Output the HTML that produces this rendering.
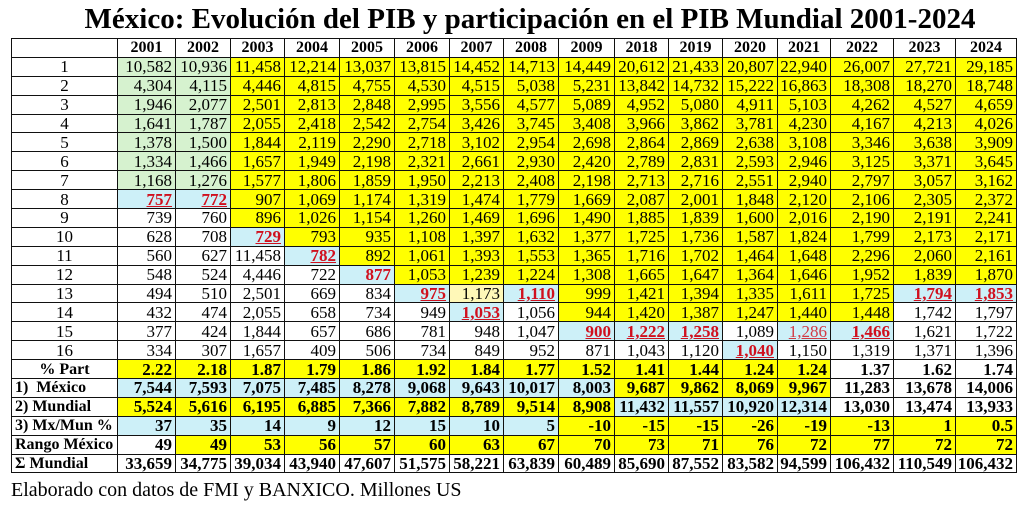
<!DOCTYPE html>
<html><head><meta charset="utf-8"><style>
body{margin:0;width:1024px;height:505px;background:#fff;position:relative;overflow:hidden;font-family:"Liberation Serif",serif;}
#t{position:absolute;left:0;top:3px;width:1060px;text-align:center;font-weight:bold;font-size:29px;line-height:32px;white-space:nowrap;}
table{position:absolute;left:11px;top:38px;border-collapse:collapse;table-layout:fixed;width:1005px;}
td{border:1.3px solid #111;height:17.9px;padding:0 3px 0 0;font-size:17px;line-height:17px;text-align:right;white-space:nowrap;overflow:hidden;}
tr.h td{font-weight:bold;font-size:16px;text-align:center;padding:0;}
td.l{text-align:center;padding:0;}
td.ll{text-align:left;padding-left:3px;font-weight:bold;font-size:16px;}
tr.bb td{font-weight:bold;}
.g{background:#d6f2cf}.y{background:#ffff00}.b{background:#cdf0f8}.ly{background:#fff8b8}
.r{color:#d0101e;font-weight:bold;text-decoration:underline;}
.rn{color:#d0101e;font-weight:bold;}
.ru{color:#d23a44;text-decoration:underline;}
#f{position:absolute;left:11px;top:479px;font-size:20px;line-height:22px;}
</style></head><body>
<div id="t">México: Evolución del PIB y participación en el PIB Mundial 2001-2024</div>
<table>
<colgroup><col style="width:106px"><col style="width:58px"><col style="width:55px"><col style="width:54px"><col style="width:55px"><col style="width:55px"><col style="width:55px"><col style="width:54px"><col style="width:55px"><col style="width:56px"><col style="width:54px"><col style="width:54px"><col style="width:55px"><col style="width:53px"><col style="width:63px"><col style="width:62px"><col style="width:61px"></colgroup>
<tr class="h"><td></td><td>2001</td><td>2002</td><td>2003</td><td>2004</td><td>2005</td><td>2006</td><td>2007</td><td>2008</td><td>2009</td><td>2018</td><td>2019</td><td>2020</td><td>2021</td><td>2022</td><td>2023</td><td>2024</td></tr>
<tr><td class="l">1</td><td class="g">10,582</td><td class="g">10,936</td><td class="y">11,458</td><td class="y">12,214</td><td class="y">13,037</td><td class="y">13,815</td><td class="y">14,452</td><td class="y">14,713</td><td class="y">14,449</td><td class="y">20,612</td><td class="y">21,433</td><td class="y">20,807</td><td class="y">22,940</td><td class="y">26,007</td><td class="y">27,721</td><td class="y">29,185</td></tr>
<tr><td class="l">2</td><td class="g">4,304</td><td class="g">4,115</td><td class="y">4,446</td><td class="y">4,815</td><td class="y">4,755</td><td class="y">4,530</td><td class="y">4,515</td><td class="y">5,038</td><td class="y">5,231</td><td class="y">13,842</td><td class="y">14,732</td><td class="y">15,222</td><td class="y">16,863</td><td class="y">18,308</td><td class="y">18,270</td><td class="y">18,748</td></tr>
<tr><td class="l">3</td><td class="g">1,946</td><td class="g">2,077</td><td class="y">2,501</td><td class="y">2,813</td><td class="y">2,848</td><td class="y">2,995</td><td class="y">3,556</td><td class="y">4,577</td><td class="y">5,089</td><td class="y">4,952</td><td class="y">5,080</td><td class="y">4,911</td><td class="y">5,103</td><td class="y">4,262</td><td class="y">4,527</td><td class="y">4,659</td></tr>
<tr><td class="l">4</td><td class="g">1,641</td><td class="g">1,787</td><td class="y">2,055</td><td class="y">2,418</td><td class="y">2,542</td><td class="y">2,754</td><td class="y">3,426</td><td class="y">3,745</td><td class="y">3,408</td><td class="y">3,966</td><td class="y">3,862</td><td class="y">3,781</td><td class="y">4,230</td><td class="y">4,167</td><td class="y">4,213</td><td class="y">4,026</td></tr>
<tr><td class="l">5</td><td class="g">1,378</td><td class="g">1,500</td><td class="y">1,844</td><td class="y">2,119</td><td class="y">2,290</td><td class="y">2,718</td><td class="y">3,102</td><td class="y">2,954</td><td class="y">2,698</td><td class="y">2,864</td><td class="y">2,869</td><td class="y">2,638</td><td class="y">3,108</td><td class="y">3,346</td><td class="y">3,638</td><td class="y">3,909</td></tr>
<tr><td class="l">6</td><td class="g">1,334</td><td class="g">1,466</td><td class="y">1,657</td><td class="y">1,949</td><td class="y">2,198</td><td class="y">2,321</td><td class="y">2,661</td><td class="y">2,930</td><td class="y">2,420</td><td class="y">2,789</td><td class="y">2,831</td><td class="y">2,593</td><td class="y">2,946</td><td class="y">3,125</td><td class="y">3,371</td><td class="y">3,645</td></tr>
<tr><td class="l">7</td><td class="g">1,168</td><td class="g">1,276</td><td class="y">1,577</td><td class="y">1,806</td><td class="y">1,859</td><td class="y">1,950</td><td class="y">2,213</td><td class="y">2,408</td><td class="y">2,198</td><td class="y">2,713</td><td class="y">2,716</td><td class="y">2,551</td><td class="y">2,940</td><td class="y">2,797</td><td class="y">3,057</td><td class="y">3,162</td></tr>
<tr><td class="l">8</td><td class="b"><span class="r">757</span></td><td class="b"><span class="r">772</span></td><td class="y">907</td><td class="y">1,069</td><td class="y">1,174</td><td class="y">1,319</td><td class="y">1,474</td><td class="y">1,779</td><td class="y">1,669</td><td class="y">2,087</td><td class="y">2,001</td><td class="y">1,848</td><td class="y">2,120</td><td class="y">2,106</td><td class="y">2,305</td><td class="y">2,372</td></tr>
<tr><td class="l">9</td><td>739</td><td>760</td><td class="y">896</td><td class="y">1,026</td><td class="y">1,154</td><td class="y">1,260</td><td class="y">1,469</td><td class="y">1,696</td><td class="y">1,490</td><td class="y">1,885</td><td class="y">1,839</td><td class="y">1,600</td><td class="y">2,016</td><td class="y">2,190</td><td class="y">2,191</td><td class="y">2,241</td></tr>
<tr><td class="l">10</td><td>628</td><td>708</td><td class="b"><span class="r">729</span></td><td class="y">793</td><td class="y">935</td><td class="y">1,108</td><td class="y">1,397</td><td class="y">1,632</td><td class="y">1,377</td><td class="y">1,725</td><td class="y">1,736</td><td class="y">1,587</td><td class="y">1,824</td><td class="y">1,799</td><td class="y">2,173</td><td class="y">2,171</td></tr>
<tr><td class="l">11</td><td>560</td><td>627</td><td>11,458</td><td class="b"><span class="r">782</span></td><td class="y">892</td><td class="y">1,061</td><td class="y">1,393</td><td class="y">1,553</td><td class="y">1,365</td><td class="y">1,716</td><td class="y">1,702</td><td class="y">1,464</td><td class="y">1,648</td><td class="y">2,296</td><td class="y">2,060</td><td class="y">2,161</td></tr>
<tr><td class="l">12</td><td>548</td><td>524</td><td>4,446</td><td>722</td><td class="b"><span class="rn">877</span></td><td class="y">1,053</td><td class="y">1,239</td><td class="y">1,224</td><td class="y">1,308</td><td class="y">1,665</td><td class="y">1,647</td><td class="y">1,364</td><td class="y">1,646</td><td class="y">1,952</td><td class="y">1,839</td><td class="y">1,870</td></tr>
<tr><td class="l">13</td><td>494</td><td>510</td><td>2,501</td><td>669</td><td>834</td><td class="b"><span class="r">975</span></td><td class="ly">1,173</td><td class="b"><span class="r">1,110</span></td><td class="y">999</td><td class="y">1,421</td><td class="y">1,394</td><td class="y">1,335</td><td class="y">1,611</td><td class="y">1,725</td><td class="b"><span class="r">1,794</span></td><td class="b"><span class="r">1,853</span></td></tr>
<tr><td class="l">14</td><td>432</td><td>474</td><td>2,055</td><td>658</td><td>734</td><td>949</td><td class="b"><span class="r">1,053</span></td><td>1,056</td><td class="y">944</td><td class="y">1,420</td><td class="y">1,387</td><td class="y">1,247</td><td class="y">1,440</td><td class="y">1,448</td><td>1,742</td><td>1,797</td></tr>
<tr><td class="l">15</td><td>377</td><td>424</td><td>1,844</td><td>657</td><td>686</td><td>781</td><td>948</td><td>1,047</td><td class="b"><span class="r">900</span></td><td class="b"><span class="r">1,222</span></td><td class="b"><span class="r">1,258</span></td><td>1,089</td><td class="b"><span class="ru">1,286</span></td><td class="b"><span class="r">1,466</span></td><td>1,621</td><td>1,722</td></tr>
<tr><td class="l">16</td><td>334</td><td>307</td><td>1,657</td><td>409</td><td>506</td><td>734</td><td>849</td><td>952</td><td>871</td><td>1,043</td><td>1,120</td><td class="b"><span class="r">1,040</span></td><td>1,150</td><td>1,319</td><td>1,371</td><td>1,396</td></tr>
<tr class="bb"><td class="l" style="font-size:16px">% Part</td><td class="y">2.22</td><td class="y">2.18</td><td class="y">1.87</td><td class="y">1.79</td><td class="y">1.86</td><td class="y">1.92</td><td class="y">1.84</td><td class="y">1.77</td><td class="y">1.52</td><td class="y">1.41</td><td class="y">1.44</td><td class="y">1.24</td><td class="y">1.24</td><td>1.37</td><td>1.62</td><td>1.74</td></tr>
<tr class="bb"><td class="ll">1)&nbsp;&nbsp;México</td><td class="b">7,544</td><td class="b">7,593</td><td class="b">7,075</td><td class="b">7,485</td><td class="b">8,278</td><td class="b">9,068</td><td class="b">9,643</td><td class="b">10,017</td><td class="b">8,003</td><td class="y">9,687</td><td class="y">9,862</td><td class="y">8,069</td><td class="y">9,967</td><td>11,283</td><td>13,678</td><td>14,006</td></tr>
<tr class="bb"><td class="ll">2) Mundial</td><td class="y">5,524</td><td class="y">5,616</td><td class="y">6,195</td><td class="y">6,885</td><td class="y">7,366</td><td class="y">7,882</td><td class="y">8,789</td><td class="y">9,514</td><td class="y">8,908</td><td class="b">11,432</td><td class="b">11,557</td><td class="b">10,920</td><td class="b">12,314</td><td>13,030</td><td>13,474</td><td>13,933</td></tr>
<tr class="bb"><td class="ll">3) Mx/Mun %</td><td class="b">37</td><td class="b">35</td><td class="b">14</td><td class="b">9</td><td class="b">12</td><td class="b">15</td><td class="b">10</td><td class="b">5</td><td class="y">-10</td><td class="y">-15</td><td class="y">-15</td><td class="y">-26</td><td class="y">-19</td><td class="y">-13</td><td class="y">1</td><td class="y">0.5</td></tr>
<tr class="bb"><td class="ll">Rango México</td><td>49</td><td class="y">49</td><td class="y">53</td><td class="y">56</td><td class="y">57</td><td class="y">60</td><td class="y">63</td><td class="y">67</td><td class="y">70</td><td class="y">73</td><td class="y">71</td><td class="y">76</td><td class="y">72</td><td class="y">77</td><td class="y">72</td><td class="y">72</td></tr>
<tr class="bb"><td class="ll">Σ Mundial</td><td>33,659</td><td>34,775</td><td>39,034</td><td>43,940</td><td>47,607</td><td>51,575</td><td>58,221</td><td>63,839</td><td>60,489</td><td>85,690</td><td>87,552</td><td>83,582</td><td>94,599</td><td>106,432</td><td>110,549</td><td>106,432</td></tr>
</table>
<div id="f">Elaborado con datos de FMI y BANXICO. Millones US</div>
</body></html>
